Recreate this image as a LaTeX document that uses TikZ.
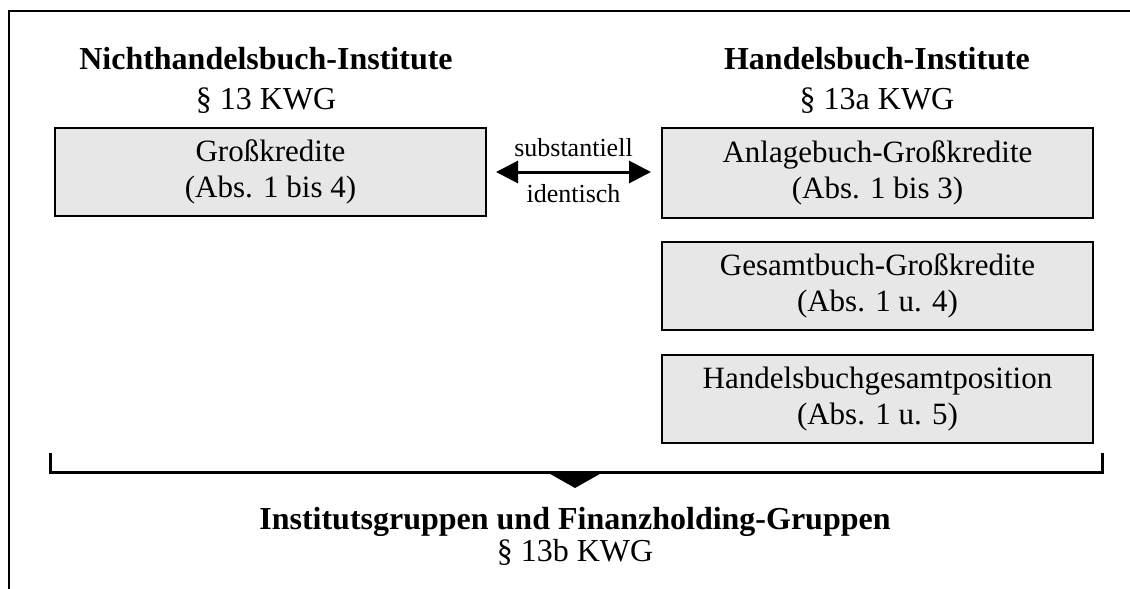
\documentclass[tikz,border=0pt]{standalone}
\usepackage{fontspec}
\setmainfont{Liberation Serif}
\usetikzlibrary{arrows.meta, positioning, shadows}
\definecolor{boxgray}{RGB}{231,231,231}

\begin{document}
\begin{tikzpicture}[
  x=0.5pt, y=-0.5pt,
  regel/.style={rectangle, draw=black, fill=boxgray, line width=1pt, minimum width=215.5pt, minimum height=44pt, inner sep=0pt, align=center, font=\fontsize{15.5}{18}\selectfont, drop shadow={shadow xshift=0.7pt, shadow yshift=-0.7pt, fill=black, opacity=1}},
  titel/.style={align=center, font=\fontsize{16}{20}\selectfont},
  pfeil/.style={{Triangle[length=11pt,width=11pt]}-{Triangle[length=11pt,width=11pt]}, line width=1.5pt},
  klein/.style={font=\fontsize{13}{13}\selectfont}
]
  \useasboundingbox (0,0) rectangle (1130,589);

  % Rahmen oben und links
  \draw[line width=1pt] (1130,11) -- (9,11) -- (9,589);

  % Ueberschriften
  \node[titel] (nhb) at (266,80) {\textbf{Nichthandelsbuch-Institute}\\ § 13 KWG};
  \node[titel] (hb) at (877,80) {\textbf{Handelsbuch-Institute}\\ § 13a KWG};

  % Kaesten
  \node[regel] (gross) at (270.5,172) {Großkredite\\ (Abs. 1 bis 4)};
  \node[regel, minimum height=45pt] (anlage) at (877.5,173) {Anlagebuch-Großkredite\\ (Abs. 1 bis 3)};
  \node[regel, below=11pt of anlage] (gesamt) {Gesamtbuch-Großkredite\\ (Abs. 1 u. 4)};
  \node[regel, below=11.5pt of gesamt] (hbgp) {Handelsbuchgesamtposition\\ (Abs. 1 u. 5)};

  \draw[pfeil] ([xshift=4.5pt]gross.east) -- ([xshift=-5pt]gross.east -| anlage.west)
    node[klein, midway, yshift=12pt] {substantiell}
    node[klein, midway, yshift=-11pt] {identisch};

  % Klammer mit Pfeilspitze nach unten
  \draw[line width=1.5pt] (50,453) -- (50,472) -- (1102,472) -- (1102,453);
  \fill (545,471) -- (605,471) -- (575,488) -- cycle;

  \node[titel, font=\fontsize{16}{16}\selectfont] (gruppen) at (575,536) {\textbf{Institutsgruppen und Finanzholding-Gruppen}\\ § 13b KWG};
\end{tikzpicture}
\end{document}
